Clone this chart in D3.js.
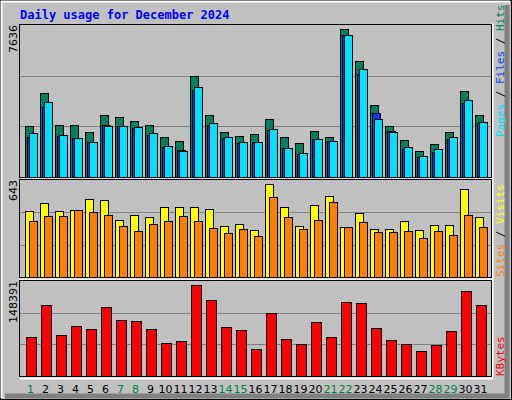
<!DOCTYPE html>
<html><head><meta charset="utf-8">
<script src="https://cdn.jsdelivr.net/npm/d3@7"></script>
<style>body{margin:0;background:#fff}svg{display:block}</style>
</head><body>
<script>
const days = d3.range(1,32);
const weekend = [1,7,8,14,15,21,22,28,29];
const hits = [2562,4220,2612,2612,2261,3115,3014,2813,2612,2010,1809,5074,3115,2261,2060,2160,2914,2010,1708,2311,2010,7436,5828,3617,2562,1859,1306,1658,2261,4321,3115];
const files = [2010,3517,2060,1959,1758,2612,2562,2462,2110,1507,1356,4371,2612,1959,1708,1758,2361,1457,1156,1909,1809,7134,5175,3215,2311,1407,1005,1256,1909,3718,2713];
const pages = [2211,3768,2110,1959,1758,2562,2562,2512,2211,1557,1306,4522,2713,2010,1758,1758,2412,1457,1206,1909,1809,7134,5426,2914,2261,1507,1055,1407,2010,3869,2763];
const visits = [437,491,437,444,517,510,378,411,398,464,464,464,451,338,351,312,617,464,338,477,537,332,424,318,318,371,312,345,345,583,398];
const sites = [371,404,404,444,431,411,338,305,351,371,404,371,325,292,318,272,530,398,318,378,497,332,365,298,298,305,259,305,278,411,332];
const kbytes = [60282,111290,63374,78831,72648,108199,88105,86559,72648,51008,54100,142204,119019,77285,71102,41734,98925,57191,49462,85014,60282,115928,114382,75739,55645,49462,38643,47917,69557,132930,111290];
const maxHits = 7636, maxVisits = 643, maxKB = 148391;

const svg = d3.select("body").append("svg").attr("width",512).attr("height",400);
svg.append("rect").attr("width",512).attr("height",400).attr("fill","#c0c0c0");
// bevel
svg.append("rect").attr("x",0.5).attr("y",0.5).attr("width",511).attr("height",399).attr("fill","none").attr("stroke","#000");
svg.append("path").attr("d","M1.5,398V1.5H510").attr("fill","none").attr("stroke","#fff").attr("stroke-width",2);
svg.append("path").attr("d","M507,5V396H5").attr("fill","none").attr("stroke","#808080").attr("stroke-width",5);

const mono = "DejaVu Sans Mono, monospace";
svg.append("text").attr("x",20).attr("y",19).attr("fill","#0000ff").attr("font-family",mono)
  .attr("font-weight","bold").attr("font-size",12).text("Daily usage for December 2024");

const x = d3.scaleBand().domain(days).range([20,485]);

function panel(y0,y1,max,label){
  const y = d3.scaleLinear().domain([0,max]).range([y1,y0]);
  svg.append("rect").attr("x",20).attr("y",y0).attr("width",471).attr("height",y1-y0).attr("fill","#c0c0c0");
  svg.append("path").attr("d",`M19.5,${y1+2.5}H492.5V${y0-1.5}`).attr("fill","none").attr("stroke","#fff").attr("stroke-width",2);
  svg.append("rect").attr("x",19.5).attr("y",y0-0.5).attr("width",472).attr("height",y1-y0+1).attr("fill","none").attr("stroke","#000");
  [1,2].forEach(k=>{const gy=Math.round(y(max*k/3))+0.5;
    svg.append("line").attr("x1",20).attr("x2",491).attr("y1",gy).attr("y2",gy).attr("stroke","#808080");});
  svg.append("text").attr("transform",`translate(17,${y0}) rotate(-90)`).attr("text-anchor","end")
    .attr("font-family","DejaVu Sans, sans-serif").attr("font-size",11).attr("fill","#000").text(label);
  return y;
}
function bars(y,vals,off,w,color){
  svg.append("g").selectAll("rect").data(vals).join("rect")
    .attr("x",(d,i)=>x(days[i])+off+0.5).attr("y",d=>Math.round(y(d))+0.5)
    .attr("width",w).attr("height",d=>y(0)-Math.round(y(d)))
    .attr("fill",color).attr("stroke","#000");
}
const y1 = panel(25,177,maxHits,"7636");
bars(y1,hits,5,8,"#00805c");
bars(y1,files,7,8,"#0040ff");
bars(y1,pages,9,8,"#00e0ff");
const y2 = panel(180,277,maxVisits,"643");
bars(y2,visits,5,8,"#ffff00");
bars(y2,sites,9,8,"#ff8000");
const y3 = panel(281,376,maxKB,"148391");
bars(y3,kbytes,6,10,"#ff0000");

svg.append("g").selectAll("text").data(days).join("text")
  .attr("x",d=>x(d)+10.5).attr("y",393).attr("text-anchor","middle")
  .attr("font-family","DejaVu Sans, sans-serif").attr("font-size",11)
  .attr("fill",d=>weekend.includes(d)?"#008040":"#000").text(d=>d);

function rlabel(yStart,parts){
  const t = svg.append("text").attr("transform",`translate(504,${yStart}) rotate(-90)`)
    .attr("font-family",mono).attr("font-size",11);
  parts.forEach(p=>t.append("tspan").attr("fill",p[1]).text(p[0]));
}
rlabel(137,[["Pages","#00e0ff"],[" / ","#000"],["Files","#0040ff"],[" / ","#000"],["Hits","#00805c"]]);
rlabel(277,[["Sites","#ff8000"],[" / ","#000"],["Visits","#ffff00"]]);
rlabel(376,[["KBytes","#ff0000"]]);
</script>
</body></html>
